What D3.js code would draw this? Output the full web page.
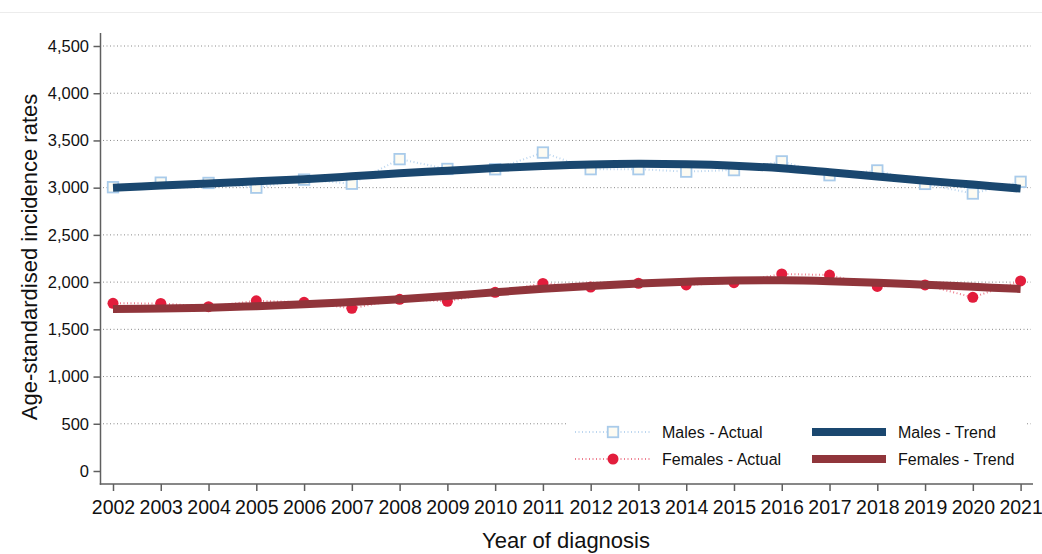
<!DOCTYPE html>
<html>
<head>
<meta charset="utf-8">
<script src="https://cdn.jsdelivr.net/npm/d3@7"></script>
<style>
  html, body { margin: 0; padding: 0; background: #ffffff; }
  svg { display: block; font-family: "Liberation Sans", Arial, sans-serif; }
</style>
</head>
<body>
<svg id="chart" width="1042" height="554"></svg>
<script>
// ---- Data ----
const years = [2002,2003,2004,2005,2006,2007,2008,2009,2010,2011,2012,2013,2014,2015,2016,2017,2018,2019,2020,2021];
const malesActual   = [3005,3053,3050,3000,3085,3042,3302,3198,3195,3372,3196,3196,3170,3186,3278,3132,3182,3040,2938,3062];
const malesTrend    = [3000,3022,3045,3067,3090,3120,3152,3180,3208,3230,3246,3252,3247,3232,3205,3163,3118,3073,3033,2990];
const femalesActual = [1776,1774,1740,1802,1786,1723,1818,1797,1892,1986,1948,1988,1970,1994,2086,2075,1954,1970,1839,2012];
const femalesTrend  = [1715,1720,1729,1745,1765,1790,1818,1853,1892,1930,1960,1985,2005,2017,2019,2010,1993,1972,1950,1928];
const yTicks = [0,500,1000,1500,2000,2500,3000,3500,4000,4500];
const xTicks = years;
const legendLabels = ["Males - Actual", "Males - Trend", "Females - Actual", "Females - Trend"];

// ---- Setup ----
const svg = d3.select("#chart");
const x = d3.scaleLinear().domain([2002, 2021]).range([113, 1020.6]);
const y = d3.scaleLinear().domain([0, 4500]).range([471, 46]);
const axisX = 100.5, axisY = 484;

const cMaleActual = "#a9cbea", cMaleTrend = "#1a476f";
const cFemActual = "#e21d3c", cFemTrend = "#90353b";
const cText = "#111111", cAxis = "#5f5f5f";

// faint top border
svg.append("line").attr("x1", 0).attr("x2", 1042).attr("y1", 12.5).attr("y2", 12.5)
  .attr("stroke", "#ececec").attr("stroke-width", 1);

// gridlines
svg.append("g").selectAll("line").data(yTicks.filter(d => d > 0)).join("line")
  .attr("x1", 103).attr("x2", 1031)
  .attr("y1", d => y(d)).attr("y2", d => y(d))
  .attr("stroke", "#8a8a8a").attr("stroke-width", 1).attr("stroke-dasharray", "1,2.5");

// y axis
const gy = svg.append("g").attr("transform", `translate(${axisX},0)`)
  .call(d3.axisLeft(y).tickValues(yTicks).tickFormat(d3.format(",")).tickSize(7).tickPadding(4.5));
gy.select(".domain").remove();
gy.selectAll(".tick line").attr("stroke", cAxis).attr("stroke-width", 1.5);
gy.selectAll(".tick text").attr("fill", cText).style("font-size", "16.5px").attr("font-family", "Liberation Sans, Arial, sans-serif");
svg.append("line").attr("x1", axisX).attr("x2", axisX).attr("y1", 33).attr("y2", axisY + 0.75)
  .attr("stroke", cAxis).attr("stroke-width", 1.5);

// x axis
const gx = svg.append("g").attr("transform", `translate(0,${axisY})`)
  .call(d3.axisBottom(x).tickValues(xTicks).tickFormat(d3.format("d")).tickSize(7).tickPadding(9.5));
gx.select(".domain").remove();
gx.selectAll(".tick line").attr("stroke", cAxis).attr("stroke-width", 1.5);
gx.selectAll(".tick text").attr("fill", cText).style("font-size", "19.5px").attr("font-family", "Liberation Sans, Arial, sans-serif");
svg.append("line").attr("x1", axisX - 0.75).attr("x2", 1033).attr("y1", axisY).attr("y2", axisY)
  .attr("stroke", cAxis).attr("stroke-width", 1.5);

// axis titles
svg.append("text").attr("x", 566).attr("y", 548).attr("text-anchor", "middle")
  .attr("fill", cText).style("font-size", "22px").text("Year of diagnosis");
svg.append("text").attr("transform", "translate(37,257) rotate(-90)").attr("text-anchor", "middle")
  .attr("fill", cText).style("font-size", "22px").text("Age-standardised incidence rates");

// ---- Series ----
const actualLine = d3.line().x((d, i) => x(years[i])).y(d => y(d));
const trendLine = d3.line().x((d, i) => x(years[i])).y(d => y(d)).curve(d3.curveCatmullRom.alpha(0.5));

// actual dotted connectors
svg.append("path").datum(malesActual).attr("d", actualLine).attr("fill", "none")
  .attr("stroke", "#bcd6ef").attr("stroke-width", 2).attr("stroke-dasharray", "1,2.5");
svg.append("path").datum(femalesActual).attr("d", actualLine).attr("fill", "none")
  .attr("stroke", "#ee7f8f").attr("stroke-width", 2).attr("stroke-dasharray", "1,2.5");

// markers
const sq = 10.5;
svg.append("g").selectAll("rect").data(malesActual).join("rect")
  .attr("x", (d, i) => x(years[i]) - sq / 2).attr("y", d => y(d) - sq / 2)
  .attr("width", sq).attr("height", sq)
  .attr("fill", "#fdfbf2").attr("stroke", cMaleActual).attr("stroke-width", 1.8);
svg.append("g").selectAll("circle").data(femalesActual).join("circle")
  .attr("cx", (d, i) => x(years[i])).attr("cy", d => y(d)).attr("r", 5.5)
  .attr("fill", cFemActual);

// trend lines
svg.append("path").datum(malesTrend).attr("d", trendLine).attr("fill", "none")
  .attr("stroke", cMaleTrend).attr("stroke-width", 8).attr("stroke-linecap", "butt");
svg.append("path").datum(femalesTrend).attr("d", trendLine).attr("fill", "none")
  .attr("stroke", cFemTrend).attr("stroke-width", 8).attr("stroke-linecap", "butt");

// ---- Legend ----
const lg = svg.append("g");
lg.append("rect").attr("x", 566).attr("y", 417).attr("width", 461).attr("height", 60).attr("fill", "#ffffff");
const rows = [432, 459];
// Males - Actual
lg.append("line").attr("x1", 575).attr("x2", 651).attr("y1", rows[0]).attr("y2", rows[0])
  .attr("stroke", "#bcd6ef").attr("stroke-width", 2).attr("stroke-dasharray", "1,2.5");
lg.append("rect").attr("x", 613 - sq / 2).attr("y", rows[0] - sq / 2).attr("width", sq).attr("height", sq)
  .attr("fill", "#fdfbf2").attr("stroke", cMaleActual).attr("stroke-width", 1.8);
// Females - Actual
lg.append("line").attr("x1", 575).attr("x2", 651).attr("y1", rows[1]).attr("y2", rows[1])
  .attr("stroke", "#ee7f8f").attr("stroke-width", 2).attr("stroke-dasharray", "1,2.5");
lg.append("circle").attr("cx", 613).attr("cy", rows[1]).attr("r", 5.5).attr("fill", cFemActual);
// Trends
lg.append("line").attr("x1", 812).attr("x2", 886).attr("y1", rows[0]).attr("y2", rows[0])
  .attr("stroke", cMaleTrend).attr("stroke-width", 8);
lg.append("line").attr("x1", 812).attr("x2", 886).attr("y1", rows[1]).attr("y2", rows[1])
  .attr("stroke", cFemTrend).attr("stroke-width", 8);
// labels
const labelPos = [[662, rows[0]], [898, rows[0]], [662, rows[1]], [898, rows[1]]];
lg.selectAll("text.lbl").data(legendLabels).join("text").attr("class", "lbl")
  .attr("x", (d, i) => labelPos[i][0]).attr("y", (d, i) => labelPos[i][1]).attr("dy", "0.36em")
  .attr("fill", cText).style("font-size", "16px").text(d => d);
</script>
</body>
</html>
